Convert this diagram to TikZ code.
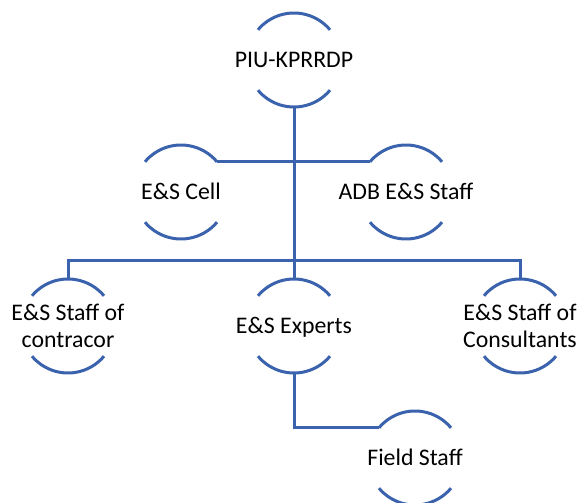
\documentclass[tikz,border=0pt]{standalone}
\usepackage{fontspec}
\setmainfont{Carlito}
\usetikzlibrary{calc}
\definecolor{lineblue}{RGB}{59,99,173}
\begin{document}
\begin{tikzpicture}[x=1pt,y=-1pt,
  ring/.style={circle,minimum size=94pt,inner sep=0pt,outer sep=0pt},
  lbl/.style={font=\fontsize{23.8}{27}\selectfont, align=center, text height=21pt, text depth=5.9pt, inner sep=0pt, text=black},
  lbltwo/.style={lbl, text height=48pt},
  arcline/.style={draw=lineblue,line width=3pt},
  conn/.style={draw=lineblue,line width=3pt}]
\useasboundingbox (0,0) rectangle (579,503);
\node[ring] (top) at (294,60) {};
\node[ring] (cell) at (181,192) {};
\node[ring] (adb) at (406,192) {};
\node[ring] (contr) at (68,326) {};
\node[ring] (exp) at (294,326) {};
\node[ring] (cons) at (520,326) {};
\node[ring] (field) at (415,458) {};
\node[lbl] (top-t) at (top) {PIU-KPRRDP};
\node[lbl] (cell-t) at (cell) {E\&S Cell};
\node[lbl] (adb-t) at (adb) {ADB E\&S Staff};
\node[lbltwo] (contr-t) at (contr) {E\&S Staff of\\contracor};
\node[lbl] (exp-t) at (exp) {E\&S Experts};
\node[lbltwo] (cons-t) at (cons) {E\&S Staff of\\Consultants};
\node[lbl] (field-t) at (field) {Field Staff};
\foreach \n in {top,cell,adb,contr,exp,cons,field}{
  \draw[arcline] (\n.140) arc[start angle=140,end angle=40,radius=47pt];
  \draw[arcline] (\n.220) arc[start angle=220,end angle=320,radius=47pt];
}
\draw[conn] (top.south) -- (exp.north);
\draw[conn] (cell.40) -- (adb.140);
\draw[conn] (contr.north) -- ++(0,-19) -| (cons.north);
\draw[conn] (exp.south) |- (field.140);
\end{tikzpicture}
\end{document}
